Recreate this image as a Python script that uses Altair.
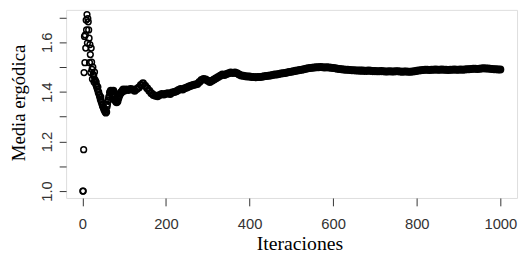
import altair as alt
import pandas as pd

# Iteration indices (x) and ergodic-mean values (y)
iters_early = list(range(1, 61))
vals_early = [
    1.000, 1.000, 1.167, 1.478, 1.624, 1.518, 1.630, 1.577, 1.690, 1.650,
    1.712, 1.597, 1.696, 1.683, 1.650, 1.617, 1.518, 1.591, 1.551, 1.478,
    1.577, 1.520, 1.491, 1.452, 1.500, 1.470, 1.465, 1.440, 1.480, 1.450,
    1.445, 1.430, 1.440, 1.420, 1.425, 1.410, 1.420, 1.398, 1.400, 1.390,
    1.385, 1.379, 1.370, 1.380, 1.360, 1.359, 1.350, 1.345, 1.340, 1.339,
    1.330, 1.335, 1.325, 1.320, 1.330, 1.315, 1.320, 1.319, 1.340, 1.350,
]

iters_mid = list(range(62, 100, 2))
vals_mid = [
    1.366, 1.380, 1.398, 1.405, 1.400, 1.390, 1.405, 1.390, 1.370, 1.362,
    1.358, 1.362, 1.375, 1.385, 1.392, 1.397, 1.400, 1.405, 1.410,
]

iters_late = list(range(100, 1001, 5))
vals_late = [
    # 100-195
    1.405, 1.410, 1.408, 1.412, 1.410, 1.405, 1.412, 1.418, 1.428, 1.435,
    1.425, 1.415, 1.405, 1.395, 1.388, 1.385, 1.383, 1.388, 1.392, 1.390,
    # 200-295
    1.393, 1.395, 1.392, 1.398, 1.400, 1.403, 1.408, 1.412, 1.410, 1.415,
    1.418, 1.422, 1.425, 1.428, 1.430, 1.432, 1.440, 1.448, 1.452, 1.450,
    # 300-395
    1.445, 1.440, 1.445, 1.450, 1.455, 1.460, 1.465, 1.470, 1.468, 1.472,
    1.475, 1.478, 1.476, 1.478, 1.475, 1.470, 1.466, 1.465, 1.463, 1.462,
    # 400-495
    1.462, 1.460, 1.460, 1.459, 1.460, 1.460, 1.461, 1.463, 1.464, 1.465,
    1.466, 1.468, 1.470, 1.470, 1.472, 1.474, 1.475, 1.476, 1.478, 1.480,
    # 500-595
    1.481, 1.483, 1.485, 1.487, 1.489, 1.490, 1.492, 1.494, 1.496, 1.497,
    1.498, 1.499, 1.500, 1.500, 1.501, 1.500, 1.499, 1.500, 1.499, 1.498,
    # 600-695
    1.497, 1.496, 1.494, 1.493, 1.492, 1.491, 1.490, 1.490, 1.489, 1.488,
    1.488, 1.487, 1.487, 1.486, 1.486, 1.485, 1.485, 1.486, 1.485, 1.484,
    # 700-795
    1.484, 1.483, 1.483, 1.484, 1.483, 1.482, 1.482, 1.483, 1.482, 1.482,
    1.483, 1.483, 1.482, 1.481, 1.482, 1.482, 1.481, 1.481, 1.482, 1.483,
    # 800-895
    1.485, 1.487, 1.488, 1.489, 1.490, 1.490, 1.489, 1.490, 1.490, 1.491,
    1.490, 1.490, 1.491, 1.490, 1.490, 1.489, 1.490, 1.490, 1.491, 1.490,
    # 900-1000
    1.490, 1.491, 1.490, 1.491, 1.492, 1.492, 1.493, 1.494, 1.494, 1.493,
    1.494, 1.495, 1.496, 1.495, 1.495, 1.494, 1.493, 1.492, 1.492, 1.491,
    1.491,
]

x_ticks = [0, 200, 400, 600, 800, 1000]
y_ticks = [1.0, 1.1, 1.2, 1.3, 1.4, 1.5, 1.6, 1.7]

iters = iters_early + iters_mid + iters_late
vals = vals_early + vals_mid + vals_late
assert len(iters) == len(vals)

df = pd.DataFrame({"Iteraciones": iters, "Media": vals})

label_font = "Liberation Sans"
title_font = "Liberation Serif"

chart = (
    alt.Chart(df)
    .mark_point(shape="circle", filled=False, stroke="black",
                size=34, opacity=1, clip=True)
    .encode(
        x=alt.X(
            "Iteraciones:Q",
            scale=alt.Scale(domain=[-39, 1040], nice=False, zero=False),
            axis=alt.Axis(
                values=x_ticks, title="Iteraciones", grid=False, domain=False,
                tickSize=8, tickColor="#333", tickWidth=1,
                labelExpr="format(datum.value, 'd')",
                labelFont=label_font, labelFontSize=15, labelColor="#333",
                labelPadding=11, labelFlush=False,
                titleFont=title_font, titleFontSize=20, titleFontWeight="normal",
                titleColor="black", titleX=237, titleY=52,
                titleBaseline="alphabetic", titleAlign="center",
            ),
        ),
        y=alt.Y(
            "Media:Q",
            scale=alt.Scale(domain=[0.9722, 1.731], nice=False, zero=False),
            axis=alt.Axis(
                values=y_ticks, title="Media ergódica", grid=False, domain=False,
                tickSize=7, tickColor="#333", tickWidth=1,
                labelExpr="(round(datum.value*10) % 2 == 0) ? format(datum.value, '.1f') : ''",
                labelFont=label_font, labelFontSize=15, labelColor="#333",
                labelAngle=270, labelAlign="center", labelBaseline="middle",
                labelPadding=13, labelFlush=False,
                titleFont=title_font, titleFontSize=19, titleFontWeight="normal",
                titleColor="black", titleX=-42, titleY=94, titleAngle=270,
                titleBaseline="alphabetic", titleAlign="center",
            ),
        ),
        strokeWidth=alt.condition(
            alt.datum.Iteraciones > 60, alt.value(2.3), alt.value(1.5)
        ),
    )
    .properties(
        width=458,
        height=191,
        autosize=alt.AutoSizeParams(type="none"),
        padding={"left": 59, "top": 0, "right": 4, "bottom": 57},
    )
    .configure_view(stroke="#333", strokeWidth=1)
    .configure(background="white")
)

chart.save("out.html", embed_options={"renderer": "svg", "actions": False})
